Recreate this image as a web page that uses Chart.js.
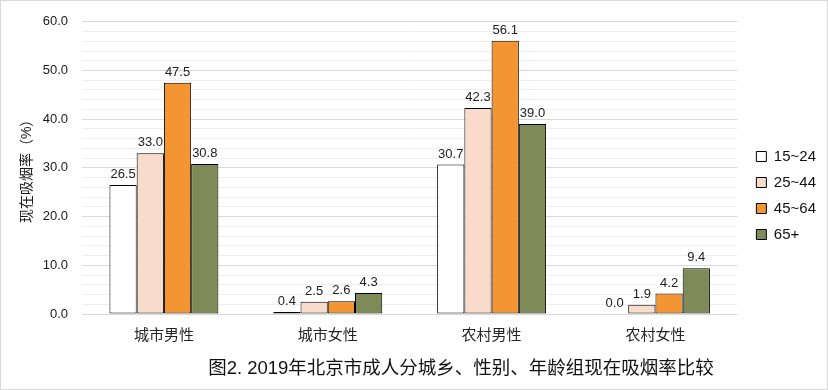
<!DOCTYPE html>
<html>
<head>
<meta charset="utf-8">
<script src="https://cdn.jsdelivr.net/npm/chart.js@4"></script>
<style>
  body { margin: 0; background: #fff; }
</style>
</head>
<body>
<canvas id="smokeChart" width="828" height="390"></canvas>
<script>
const categories = ["城市男性", "城市女性", "农村男性", "农村女性"];
const ageGroups = ["15~24", "25~44", "45~64", "65+"];
const age15to24 = [26.5, 0.4, 30.7, 0.0];
const age25to44 = [33.0, 2.5, 42.3, 1.9];
const age45to64 = [47.5, 2.6, 56.1, 4.2];
const age65plus = [30.8, 4.3, 39.0, 9.4];
const yTicks = [0, 10, 20, 30, 40, 50, 60];

const barColors = ["#FFFFFF", "#F9DBCC", "#F39533", "#7E8B58"];
const FONT = "'Liberation Sans', 'Noto Sans CJK SC', sans-serif";
const chartTitle = "图2. 2019年北京市成人分城乡、性别、年龄组现在吸烟率比较";

// value labels above each bar
const valueLabels = {
  id: "valueLabels",
  afterDatasetsDraw(chart) {
    const ctx = chart.ctx;
    ctx.save();
    ctx.font = "13px " + FONT;
    ctx.fillStyle = "#222";
    ctx.textAlign = "center";
    ctx.textBaseline = "bottom";
    chart.data.datasets.forEach((ds, i) => {
      chart.getDatasetMeta(i).data.forEach((bar, j) => {
        ctx.fillText(ds.data[j].toFixed(1), bar.x, bar.y - 4);
      });
    });
    ctx.restore();
  },
};

// push the legend a bit away from the plot, like the original
const legendGap = {
  id: "legendGap",
  afterLayout(chart) {
    chart.legend.left += 8;
    chart.legend.right += 8;
  },
};

// bottom caption and outer frame
const captionAndFrame = {
  id: "captionAndFrame",
  afterDraw(chart) {
    const ctx = chart.ctx;
    ctx.save();
    ctx.font = "18.5px " + FONT;
    ctx.fillStyle = "#111";
    ctx.textAlign = "center";
    ctx.textBaseline = "middle";
    ctx.fillText(chartTitle, 461, 369);
    ctx.strokeStyle = "#d9d9d9";
    ctx.lineWidth = 1;
    ctx.strokeRect(0.5, 0.5, chart.width - 1, chart.height - 1);
    ctx.restore();
  },
};

const seriesData = [age15to24, age25to44, age45to64, age65plus];

new Chart(document.getElementById("smokeChart"), {
  type: "bar",
  data: {
    labels: categories,
    datasets: ageGroups.map((name, i) => ({
      label: name,
      data: seriesData[i],
      backgroundColor: barColors[i],
      borderColor: "#000",
      borderWidth: 1,
      borderSkipped: false,
      categoryPercentage: 0.665,
      barPercentage: 1,
    })),
  },
  options: {
    responsive: false,
    devicePixelRatio: 1,
    animation: false,
    layout: { padding: { top: 15, right: 10, bottom: 14, left: 0 } },
    scales: {
      x: {
        grid: { display: false },
        border: { display: false },
        ticks: { color: "#262626", font: { size: 15, family: FONT }, padding: 5 },
        afterFit(scale) { scale.height = 390 - 14 - 314; },
      },
      y: {
        min: 0,
        max: 60,
        afterBuildTicks(scale) {
          const t = [];
          for (let v = 0; v <= 60; v += 2) t.push({ value: v });
          scale.ticks = t;
        },
        grid: {
          drawTicks: false,
          color: (c) => (c.tick && yTicks.includes(c.tick.value) ? "#d9d9d9" : "#efefef"),
        },
        border: { display: false },
        ticks: {
          autoSkip: false,
          padding: 14,
          color: "#1a1a1a",
          font: { size: 13, family: FONT },
          callback: (v) => (yTicks.includes(v) ? v.toFixed(1) : ""),
        },
        title: {
          display: true,
          text: "现在吸烟率（%）",
          color: "#1a1a1a",
          font: { size: 14, family: FONT },
          padding: { top: 19, bottom: 0 },
        },
        afterFit(scale) { scale.width = 82; },
      },
    },
    plugins: {
      legend: {
        position: "right",
        fullSize: true,
        labels: {
          boxWidth: 10,
          boxHeight: 10,
          padding: 11,
          color: "#111",
          font: { size: 15, family: FONT },
        },
      },
      tooltip: { enabled: false },
    },
  },
  plugins: [valueLabels, legendGap, captionAndFrame],
});
</script>
</body>
</html>
